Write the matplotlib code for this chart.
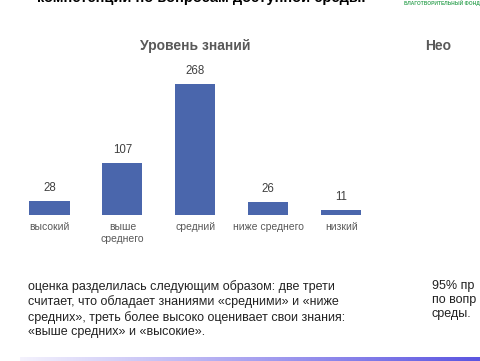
import numpy as np
import matplotlib.pyplot as plt
from matplotlib.colors import LinearSegmentedColormap

plt.rcParams["font.family"] = ["Liberation Sans", "DejaVu Sans"]

categories = ["высокий", "выше\nсреднего", "средний", "ниже среднего", "низкий"]
counts = [28, 107, 268, 26, 11]

bar_color = "#4a66ac"
gray = "#595959"

fig = plt.figure(figsize=(4.8, 3.61), dpi=100)

# chart
ax = fig.add_axes([0.027, 0.4044, 0.760, 0.407])
x = np.arange(len(categories))
ax.bar(x, counts, width=0.55, color=bar_color)
for xi, v in zip(x, counts):
    ax.annotate(str(v), (xi, v), xytext=(0, 5), textcoords="offset points",
                ha="center", va="bottom", fontsize=8.3, color="#404040")
ax.set_xlim(-0.5, 4.5)
ax.set_ylim(0, 300)
ax.set_xticks(x)
ax.set_xticklabels(categories, fontsize=7.5, color=gray, linespacing=1.2, va="top")
ax.tick_params(axis="x", length=0, pad=5)
ax.set_yticks([])
for s in ax.spines.values():
    s.set_visible(False)

fig.text(195 / 480, 1 - 46 / 361, "Уровень знаний", ha="center", va="center",
         fontsize=10, fontweight="bold", color=gray)

# slide context around the chart
fig.text(37 / 480, 1 + 2 / 361, "компетенции по вопросам доступной среды.",
         ha="left", va="center", fontsize=10.5, fontweight="bold", color="black")
fig.text(404 / 480, 1 - 3 / 361, "БЛАГОТВОРИТЕЛЬНЫЙ ФОНД",
         ha="left", va="center", fontsize=3.5, fontweight="bold", color="#3aa65a")
fig.text(425 / 480, 1 - 46 / 361, "Нео", ha="left", va="center",
         fontsize=10, fontweight="bold", color=gray)

para = ("оценка разделилась следующим образом: две трети\n"
        "считает, что обладает знаниями «средними» и «ниже\n"
        "средних», треть более высоко оценивает свои знания:\n"
        "«выше средних» и «высокие».")
fig.text(28 / 480, 1 - 280 / 361, para, ha="left", va="top",
         fontsize=9, color="#222222", linespacing=1.25)
fig.text(432 / 480, 1 - 280 / 361, "95% пр\nпо вопр\nсреды.",
         ha="left", va="top", fontsize=9, color="#222222", linespacing=1.25)

# gradient strip at the bottom
gax = fig.add_axes([20 / 480, 0, 460 / 480, 4 / 361])
grad = np.linspace(0, 1, 256).reshape(1, -1)
cmap = LinearSegmentedColormap.from_list("strip", ["#f4f2fd", "#a9a3f0", "#5b55e0"])
gax.imshow(grad, aspect="auto", cmap=cmap)
gax.axis("off")

fig.savefig("out.png", dpi=100)
